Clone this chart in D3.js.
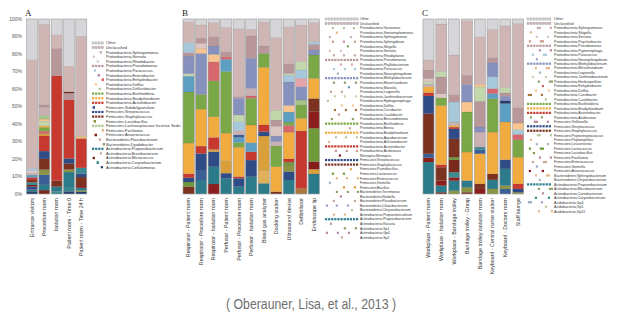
<!DOCTYPE html>
<html>
<head>
<meta charset="utf-8">
<script src="https://cdn.jsdelivr.net/npm/d3@7"></script>
<style>
  body { margin: 0; background: #fff; }
  svg { display: block; }
</style>
</head>
<body>
<div class="chart"></div>
<script>
// sample sites per panel
const samplesA = ['Entrance visitors', 'Procedure room', 'Isolation room', 'Patient room - Time 0', 'Patient room - Time 24 h'];
const samplesB = ['Respirator - Patient room', 'Respirator - Procedure room', 'Respirator - Isolation room',
  'Perfusor - Patient room', 'Perfusor - Procedure room', 'Perfusor - Isolation room', 'Blood gas analyzer',
  'Docking station', 'Ultrasound device', 'Defibrillator', 'Endoscope tip'];
const samplesC = ['Workplace - Patient room', 'Workplace - Isolation room', 'Workplace - Bandage trolley',
  'Bandage trolley - Grasp', 'Bandage trolley isolation room', 'Keyboard - Central nurse station',
  'Keyboard - Doctors room', 'Staff lounge'];

// relative abundance (%) per sample, listed from the top of the bar down
const barsA = [
  [['Other', 23], ['Unclassified', 61.6], ['Paracoccus', 1.2], ['Serratia', 1.5], ['Sphingomonas', 1.0], ['Massilia', 1.3],
   ['Acinetobacter', 1.5], ['Staphylococcus', 1.3], ['Corynebacterium', 1.5], ['Anaerococcus', 0.8], ['Streptococcus', 1.8],
   ['Propionibacterium', 1.0], ['Cellulomonas', 1.5]],
  [['Other', 3], ['Unclassified', 45.7], ['Pseudomonas', 1.5], ['Sphingomonas', 4.5], ['Lachnospiraceae Incertae Sedis', 2],
   ['Delftia', 1.2], ['Janthinobacterium', 2.5], ['Bradyrhizobium', 1], ['Burkholderia', 2.2], ['Enhydrobacter', 1.5],
   ['Bacillus', 1.2], ['Acinetobacter', 8.6], ['Streptococcus', 4.4], ['Staphylococcus', 6.1], ['Lactobacillus', 2.9],
   ['Subdoligranulum', 5.7], ['Propionibacterium', 3], ['Micrococcus', 2.2]],
  [['Other', 9], ['Unclassified', 7.8], ['Pseudomonas', 15.6], ['Acinetobacter', 60], ['Staphylococcus', 3.4],
   ['Propionibacterium', 2.8], ['Corynebacterium', 1.4]],
  [['Other', 27], ['Unclassified', 14.5], ['Micrococcus', 0.8], ['Pseudomonas', 3.7], ['Acinetobacter', 33.6],
   ['Streptococcus', 2.9], ['Staphylococcus', 3.4], ['Lactobacillus', 1.5], ['Propionibacterium', 9.0],
   ['Corynebacterium', 2.0], ['Cellulomonas', 1.5]],
  [['Other', 9.7], ['Unclassified', 56], ['Delftia', 0.8], ['Bradyrhizobium', 0.6], ['Acinetobacter', 16.4],
   ['Corynebacterium', 3.2], ['Streptococcus', 2], ['Staphylococcus', 4.5], ['Anaerococcus', 1.5],
   ['Propionibacterium', 1.5], ['Lactobacillus', 0.8], ['Cellulomonas', 1.2]]
];

const barsB = [
  [['Other', 1.5], ['Unclassified', 12], ['Paracoccus', 5.7], ['Pseudomonas', 2], ['Methylobacterium', 10],
   ['Janthinobacterium', 1.5], ['Massilia', 9], ['Burkholderia', 29.2], ['Bradyrhizobium', 17.5], ['Acinetobacter', 2.3],
   ['Streptococcus', 2.5], ['Lactococcus', 2.5], ['Staphylococcus', 4.3]],
  [['Other', 3.4], ['Unclassified', 7.6], ['Pseudomonas', 3], ['Serratia', 2.8], ['Delftia', 2.9], ['Methylobacterium', 23.5],
   ['Burkholderia', 8.4], ['Bradyrhizobium', 21.2], ['Acinetobacter', 4.2], ['Streptococcus', 9.5],
   ['Subdoligranulum', 5.7], ['Propionibacterium', 8]],
  [['Other', 2], ['Unclassified', 8.2], ['Pseudomonas', 5.3], ['Methylobacterium', 4.8], ['Delftia', 4.2],
   ['Enhydrobacter', 10.9], ['Burkholderia', 20.6], ['Bradyrhizobium', 11.8], ['Acinetobacter', 6.9], ['Bacillus', 1.3],
   ['Streptococcus', 8.6], ['Propionibacterium', 9.9], ['Anaerococcus', 5.7]],
  [['Other', 4.8], ['Unclassified', 13.9], ['Pseudomonas', 2.9], ['Enhydrobacter', 1.5], ['Massilia', 7],
   ['Burkholderia', 35.3], ['Bradyrhizobium', 15.7], ['Bacillus', 7.3], ['Streptococcus', 2.9], ['Propionibacterium', 9]],
  [['Other', 5.7], ['Unclassified', 38.8], ['Pseudomonas', 1], ['Methylobacterium', 9.5], ['Janthinobacterium', 3.8],
   ['Paracoccus', 5.1], ['Sphingomonas', 2.5], ['Subdoligranulum', 1.5], ['Massilia', 2.9], ['Burkholderia', 2.7],
   ['Bradyrhizobium', 16.8], ['Acinetobacter', 1], ['Streptococcus', 4.8], ['Propionibacterium', 4.2]],
  [['Other', 5.9], ['Unclassified', 3.8], ['Pseudomonas', 12.8], ['Methylobacterium', 17.2], ['Sphingomonas', 4.4],
   ['Enhydrobacter', 1.3], ['Burkholderia', 15.3], ['Bradyrhizobium', 10.1], ['Massilia', 5.2], ['Acinetobacter', 4.8],
   ['Streptococcus', 9.5], ['Propionibacterium', 9.9]],
  [['Other', 1.5], ['Unclassified', 14], ['Pseudomonas', 4.2], ['Burkholderia', 8], ['Bradyrhizobium', 33],
   ['Acinetobacter', 3.8], ['Streptococcus', 2.5], ['Bacillus', 19.5], ['Paenibacillus', 7.6], ['Propionibacterium', 6.1]],
  [['Other', 10.5], ['Unclassified', 41.6], ['Janthinobacterium', 5.7], ['Pseudomonas', 3.4], ['Serratia', 5.7],
   ['Methylobacterium', 3.2], ['Sphingomonas', 2.5], ['Burkholderia', 11.8], ['Bradyrhizobium', 14.3], ['Staphylococcus', 1.3]],
  [['Other', 4.4], ['Unclassified', 21], ['Pseudomonas', 5.7], ['Janthinobacterium', 1], ['Paracoccus', 3.8],
   ['Methylobacterium', 13.4], ['Delftia', 3.8], ['Massilia', 5.7], ['Burkholderia', 1.9], ['Enhydrobacter', 3.8],
   ['Bradyrhizobium', 15.3], ['Acinetobacter', 1.9], ['Lactococcus', 1.5], ['Lactobacillus', 3.8], ['Streptococcus', 4.8],
   ['Propionibacterium', 8]],
  [['Other', 3.4], ['Unclassified', 21], ['Janthinobacterium', 4.8], ['Paracoccus', 4.8], ['Phyllobacterium', 4.8],
   ['Methylobacterium', 7.6], ['Lachnospiraceae Incertae Sedis', 2.9], ['Burkholderia', 7.6], ['Bradyrhizobium', 7.1],
   ['Acinetobacter', 33], ['Curvibacter', 3.2]],
  [['Other', 2], ['Unclassified', 11], ['Paracoccus', 1.5], ['Pseudomonas', 3.2], ['Methylobacterium', 2.9],
   ['Burkholderia', 13.4], ['Bradyrhizobium', 11.5], ['Staphylococcus', 7.6], ['Anaerococcus', 9.5], ['Lactococcus', 19],
   ['Nitrospira', 4.4], ['Bacillus', 2.7], ['Propionibacterium', 11.5]]
];

const barsC = [
  [['Other', 23.5], ['Unclassified', 5.7], ['Pseudomonas', 4.8], ['Serratia', 1.9], ['Janthinobacterium', 1.3],
   ['Sphingomonas', 1.5], ['Bradyrhizobium', 3.3], ['Acinetobacter', 1.9], ['Streptococcus', 10.1], ['Staphylococcus', 22.9],
   ['Subdoligranulum', 2.3], ['Anaerococcus', 2.5], ['Propionibacterium', 18.2]],
  [['Other', 2.9], ['Unclassified', 27], ['Janthinobacterium', 3.3], ['Pseudomonas', 9.6], ['Serratia', 2.3],
   ['Burkholderia', 4.4], ['Bradyrhizobium', 33.8], ['Acinetobacter', 1.5], ['Staphylococcus', 7.6], ['Anaerococcus', 2.9],
   ['Propionibacterium', 3.8], ['Micrococcus', 1]],
  [['Other', 20.6], ['Unclassified', 22.6], ['Pseudomonas', 4.2], ['Paracoccus', 11.5], ['Sphingomonas', 1.9],
   ['Bradyrhizobium', 1], ['Acinetobacter', 1], ['Streptococcus', 5.7], ['Staphylococcus', 10.5], ['Lactococcus', 1.5],
   ['Micrococcus', 7.1], ['Corynebacterium', 2.9], ['Anaerococcus', 1.9], ['Propionibacterium', 5.7], ['Lactobacillus', 1.9]],
  [['Other', 1], ['Unclassified', 31.2], ['Pseudomonas', 5.2], ['Methylobacterium', 10.1], ['Delftia', 5.7],
   ['Burkholderia', 22.9], ['Bradyrhizobium', 16.3], ['Propionibacterium', 3.8], ['Lactobacillus', 2.9], ['Staphylococcus', 1]],
  [['Other', 10.1], ['Unclassified', 27.2], ['Delftia', 1.5], ['Janthinobacterium', 8.2], ['Pseudomonas', 14.7],
   ['Methylobacterium', 2.9], ['Sphingomonas', 8.6], ['Corynebacterium', 1.5], ['Subdoligranulum', 2.3],
   ['Bradyrhizobium', 17.2], ['Staphylococcus', 2.9], ['Anaerococcus', 2.9]],
  [['Other', 5.9], ['Unclassified', 16.1], ['Pseudomonas', 3.1], ['Methylobacterium', 8], ['Paracoccus', 6.7],
   ['Enhydrobacter', 2.9], ['Massilia', 2.9], ['Burkholderia', 19.1], ['Bradyrhizobium', 23.9], ['Staphylococcus', 3.4],
   ['Propionibacterium', 5.2], ['Lactobacillus', 2.9]],
  [['Other', 4], ['Unclassified', 35.2], ['Janthinobacterium', 3.1], ['Pseudomonas', 1.9], ['Methylobacterium', 2.7],
   ['Cellulomonas', 1.5], ['Massilia', 10.5], ['Bradyrhizobium', 21.6], ['Streptococcus', 5.2], ['Propionibacterium', 9.6],
   ['Lactobacillus', 1.9], ['Subdoligranulum', 2.9]],
  [['Other', 2.5], ['Unclassified', 48.2], ['Pseudomonas', 8.8], ['Delftia', 3.8], ['Paracoccus', 2.7],
   ['Enhydrobacter', 3.1], ['Burkholderia', 9.9], ['Bradyrhizobium', 15.3], ['Acinetobacter', 2.9], ['Streptococcus', 1.9],
   ['Lactobacillus', 1]]
];

// legend entries per panel
const legendA = ['Other', 'Unclassified', 'Proteobacteria;Sphingomonas', 'Proteobacteria;Serratia', 'Proteobacteria;Rhodobacter',
  'Proteobacteria;Pseudomonas', 'Proteobacteria;Paracoccus', 'Proteobacteria;Enterobacter', 'Proteobacteria;Enhydrobacter',
  'Proteobacteria;Delftia', 'Proteobacteria;Defluviibacter', 'Proteobacteria;Burkholderia', 'Proteobacteria;Bradyrhizobium',
  'Proteobacteria;Acinetobacter', 'Firmicutes;Subdoligranulum', 'Firmicutes;Streptococcus', 'Firmicutes;Staphylococcus',
  'Firmicutes;Lactobacillus', 'Firmicutes;Lachnospiraceae Incertae Sedis', 'Firmicutes;Facklamia', 'Firmicutes;Anaerococcus',
  'Bacteroidetes;Flavobacterium', 'Bacteroidetes;Dyadobacter', 'Actinobacteria;Propionibacterium',
  'Actinobacteria;Brevibacterium', 'Actinobacteria;Micrococcus', 'Actinobacteria;Corynebacterium', 'Actinobacteria;Cellulomonas'];

const legendB = ['Other', 'Unclassified', 'Proteobacteria;Variovorax', 'Proteobacteria;Stenotrophomonas',
  'Proteobacteria;Sphingomonas', 'Proteobacteria;Sphingobium', 'Proteobacteria;Shigella', 'Proteobacteria;Serratia',
  'Proteobacteria;Rhodoplanes', 'Proteobacteria;Pseudomonas', 'Proteobacteria;Phyllobacterium', 'Proteobacteria;Paracoccus',
  'Proteobacteria;Novosphingobium', 'Proteobacteria;Methylobacterium', 'Proteobacteria;Mesorhizobium',
  'Proteobacteria;Massilia', 'Proteobacteria;Legionella', 'Proteobacteria;Janthinobacterium', 'Proteobacteria;Hydrogenophaga',
  'Proteobacteria;Delftia', 'Proteobacteria;Curvibacter', 'Proteobacteria;Caulobacter', 'Proteobacteria;Brevundimonas',
  'Proteobacteria;Burkholderia', 'Proteobacteria;Bosea', 'Proteobacteria;Bradyrhizobium', 'Proteobacteria;Aquabacterium',
  'Proteobacteria;Achromobacter', 'Proteobacteria;Acinetobacter', 'Proteobacteria;Acidovorax', 'Nitrospira;Nitrospira',
  'Firmicutes;Streptococcus', 'Firmicutes;Staphylococcus', 'Firmicutes;Paenibacillus', 'Firmicutes;Lactococcus',
  'Firmicutes;Enterococcus', 'Firmicutes;Gemella', 'Firmicutes;Bacillus', 'Bacteroidetes;Terrimonas',
  'Bacteroidetes;Niabella', 'Bacteroidetes;Flavobacterium', 'Bacteroidetes;Cloacibacterium',
  'Bacteroidetes;Chryseobacterium', 'Actinobacteria;Propionimicrobium', 'Actinobacteria;Propionibacterium',
  'Actinobacteria;Kocuria', 'Actinobacteria;Sp1', 'Actinobacteria;Gp4', 'Actinobacteria;Sp2'];

const legendC = ['Other', 'Unclassified', 'Proteobacteria;Sphingomonas', 'Proteobacteria;Shigella', 'Proteobacteria;Serratia',
  'Proteobacteria;Psychrobacter', 'Proteobacteria;Pseudomonas', 'Proteobacteria;Pigmentiphaga', 'Proteobacteria;Paracoccus',
  'Proteobacteria;Novosphingobium', 'Proteobacteria;Methylobacterium', 'Proteobacteria;Mesorhizobium',
  'Proteobacteria;Legionella', 'Proteobacteria;Janthinobacterium', 'Proteobacteria;Herbaspirillum',
  'Proteobacteria;Enhydrobacter', 'Proteobacteria;Delftia', 'Proteobacteria;Curvibacter', 'Proteobacteria;Caulobacter',
  'Proteobacteria;Burkholderia', 'Proteobacteria;Bradyrhizobium', 'Proteobacteria;Acinetobacter',
  'Proteobacteria;Acidovorax', 'Firmicutes;Veillonella', 'Firmicutes;Streptococcus', 'Firmicutes;Staphylococcus',
  'Firmicutes;Peptostreptococcus', 'Firmicutes;Peptoniphilus', 'Firmicutes;Leuconostoc', 'Firmicutes;Lactococcus',
  'Firmicutes;Lactobacillus', 'Firmicutes;Facklamia', 'Firmicutes;Enterococcus', 'Firmicutes;Gemella',
  'Firmicutes;Anaerococcus', 'Bacteroidetes;Sphingobacterium', 'Bacteroidetes;Chryseobacterium',
  'Actinobacteria;Propionibacterium', 'Actinobacteria;Microbacterium', 'Actinobacteria;Curtobacterium',
  'Actinobacteria;Corynebacterium', 'Acidobacteria;Gp4', 'Acidobacteria;Gp1', 'Acidobacteria;Gp11'];

// genus colours
const genusColor = {
  'Other': '#d6d6da', 'Unclassified': '#cfb5b3', 'Pseudomonas': '#b8979a', 'Serratia': '#dcc5c2',
  'Sphingomonas': '#c9b0b2', 'Rhodobacter': '#d9cfc8', 'Paracoccus': '#a6c8da', 'Methylobacterium': '#8791be',
  'Massilia': '#5d9fc3', 'Janthinobacterium': '#c2d7ac', 'Burkholderia': '#7aa846', 'Bradyrhizobium': '#f2ab3e',
  'Delftia': '#f7c58d', 'Enhydrobacter': '#d6676c', 'Acinetobacter': '#c7392f', 'Streptococcus': '#2f4c87',
  'Staphylococcus': '#7b3320', 'Anaerococcus': '#8c1f1d', 'Propionibacterium': '#2b7b8b', 'Lactobacillus': '#8a9442',
  'Bacillus': '#d99f3a', 'Lactococcus': '#6e9a3a', 'Lachnospiraceae Incertae Sedis': '#a7c48a',
  'Corynebacterium': '#3a8b8f', 'Micrococcus': '#7a2a1c', 'Cellulomonas': '#253e6e', 'Subdoligranulum': '#3b5e96',
  'Paenibacillus': '#e0b05a', 'Phyllobacterium': '#e3a3a8', 'Curvibacter': '#a9763c', 'Nitrospira': '#851c1c'
};
const spare = ['#c4a99a', '#9aa7c9', '#b7c9a0', '#e1b98c', '#a0b8c4', '#c79a8e', '#8da36b', '#b58aa0'];
const genusOf = name => name.split(';').pop();
const colorOf = (name, i) => genusColor[genusOf(name)] || spare[i % spare.length];

const dashedKeys = new Set(['Other', 'Unclassified', 'Pseudomonas', 'Acinetobacter', 'Streptococcus', 'Staphylococcus',
  'Propionibacterium', 'Burkholderia', 'Bradyrhizobium', 'Methylobacterium', 'Lachnospiraceae Incertae Sedis']);

const W = 621, H = 321;
const svg = d3.select('.chart').append('svg').attr('width', W).attr('height', H);
const y = d3.scaleLinear().domain([0, 100]).range([194, 19]);
const font = '"Liberation Sans", Arial, sans-serif';

const panels = [
  { letter: 'A', samples: samplesA, bars: barsA, legend: legendA, range: [26.5, 86.8], pad: 0.11, letterX: 25,
    keyX: 92, textX: 106, legendY: 43, step: 4.6, fs: 3.9, axis: true },
  { letter: 'B', samples: samplesB, bars: barsB, legend: legendB, range: [183, 319.5], pad: 0.1, letterX: 182,
    keyX: 325, textX: 360, legendY: 19, step: 4.55, fs: 3.5 },
  { letter: 'C', samples: samplesC, bars: barsC, legend: legendC, range: [423, 523.7], pad: 0.14, letterX: 422,
    keyX: 527, textX: 554, legendY: 19, step: 4.47, fs: 3.6 }
];

panels.forEach(p => {
  const g = svg.append('g');
  const x = d3.scaleBand().domain(p.samples).range(p.range).paddingInner(p.pad).paddingOuter(0);

  g.append('text').attr('x', p.letterX).attr('y', 16)
    .attr('font-family', '"Liberation Serif", "DejaVu Serif", serif').attr('font-size', 9).attr('fill', '#222')
    .text(p.letter);

  if (p.axis) {
    const ticks = d3.range(0, 101, 10);
    g.selectAll('.ytick').data(ticks).join('text')
      .attr('x', 22).attr('y', d => y(d) + 1.7)
      .attr('text-anchor', 'end').attr('font-family', font).attr('font-size', 5).attr('fill', '#555')
      .text(d => d + '%');
  }

  // stacked bars, normalised to 100 %
  p.bars.forEach((segs, i) => {
    const total = d3.sum(segs, d => d[1]);
    const bottomUp = segs.slice().reverse();
    const ends = d3.cumsum(bottomUp, d => d[1] / total * 100);
    const rows = bottomUp.map((d, k) => ({ name: d[0], y0: ends[k] - d[1] / total * 100, y1: ends[k] }));
    const bx = x(p.samples[i]);
    const bar = g.append('g');
    bar.selectAll('rect').data(rows).join('rect')
      .attr('x', bx).attr('width', x.bandwidth())
      .attr('y', d => y(d.y1)).attr('height', d => y(d.y0) - y(d.y1))
      .attr('fill', d => genusColor[d.name] || '#bbb')
      .attr('stroke', 'rgba(60,60,60,0.25)').attr('stroke-width', 0.3);
    bar.append('rect').attr('x', bx).attr('width', x.bandwidth())
      .attr('y', y(100)).attr('height', y(0) - y(100))
      .attr('fill', 'none').attr('stroke', '#a8a8a8').attr('stroke-width', 0.6);
  });

  // rotated sample labels
  g.selectAll('.xlab').data(p.samples).join('text')
    .attr('transform', d => `translate(${x(d) + x.bandwidth() / 2 + 1.8},198) rotate(-90)`)
    .attr('text-anchor', 'end').attr('font-family', font).attr('font-size', 5.3).attr('fill', '#333')
    .text(d => d);

  // legend
  const lg = g.append('g');
  p.legend.forEach((name, i) => {
    const ly = p.legendY + i * p.step;
    const c = colorOf(name, i);
    const s = 2.2;
    const span = p.textX - p.keyX - 3;
    let xs;
    if (dashedKeys.has(genusOf(name))) {
      xs = d3.range(p.keyX, p.textX - s - 0.5, 3.1);
    } else {
      const n = 1 + (i % 3);
      xs = d3.range(n).map(k => p.textX - s - 1 - ((i * 7 + k * 11) % span));
    }
    lg.selectAll(null).data(xs).join('rect')
      .attr('x', d => d).attr('y', ly - s / 2).attr('width', s).attr('height', s)
      .attr('fill', c)
      .attr('stroke', i < 2 ? '#888' : 'none').attr('stroke-width', 0.3);
    lg.append('text').attr('x', p.textX).attr('y', ly + p.fs * 0.36)
      .attr('font-family', font).attr('font-size', p.fs).attr('fill', '#333')
      .text(name);
  });
});

svg.append('text').attr('x', 311).attr('y', 309).attr('text-anchor', 'middle')
  .attr('font-family', '"Liberation Sans Narrow", "Liberation Sans", Arial, sans-serif')
  .attr('font-size', 14).attr('fill', '#6f6f6f')
  .attr('textLength', 170).attr('lengthAdjust', 'spacingAndGlyphs')
  .text('( Oberauner, Lisa, et al., 2013 )');
</script>
</body>
</html>
